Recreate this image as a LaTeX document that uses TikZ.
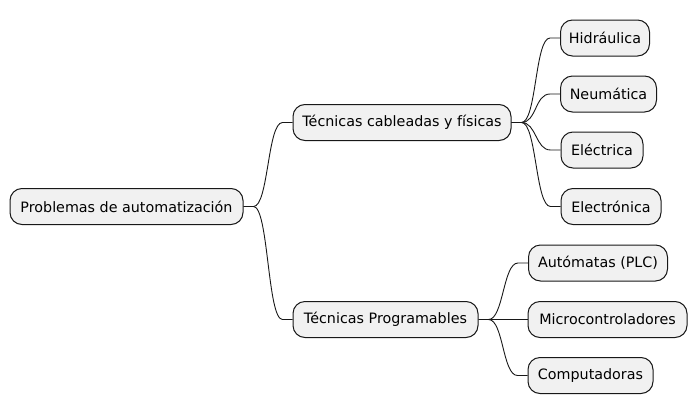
\documentclass[tikz,border=0pt]{standalone}
\usepackage{fontspec}
\setmainfont{DejaVu Sans}
\usetikzlibrary{calc}
\definecolor{boxfill}{HTML}{F1F1F1}
\definecolor{boxline}{HTML}{181818}
\tikzset{
  mmbox/.style={draw=boxline, fill=boxfill, line width=1pt, rounded corners=12pt,
    minimum height=36pt, inner sep=0pt, font=\fontsize{14.3pt}{16pt}\selectfont, text=black},
  conn/.style={draw=boxline, line width=0.9pt}
}
\newcommand{\mmconn}[2]{\draw[conn] (#1.east) -- ++(10pt,0) .. controls +(15pt,0) and +(-15pt,0) .. ($(#2.west)+(-10pt,0)$) -- (#2.west);}
\begin{document}
\begin{tikzpicture}[x=1pt,y=-1pt]
\useasboundingbox (0,0) rectangle (698,415);
\node[mmbox, minimum width=233pt] (root) at (126.5,206.5) {Problemas de automatización};
\node[mmbox, minimum width=218pt] (cab) at (402,122.5) {Técnicas cableadas y físicas};
\node[mmbox, minimum width=185pt] (prog) at (385.5,319.5) {Técnicas Programables};
\node[mmbox, minimum width=89pt] (hid) at (605,38) {Hidráulica};
\node[mmbox, minimum width=96pt] (neu) at (608.5,94) {Neumática};
\node[mmbox, minimum width=82pt] (ele) at (602,150) {Eléctrica};
\node[mmbox, minimum width=100pt] (elo) at (611,206.5) {Electrónica};
\node[mmbox, minimum width=139pt] (aut) at (598,263) {Autómatas (PLC)};
\node[mmbox, minimum width=159pt] (mic) at (607.5,319.5) {Microcontroladores};
\node[mmbox, minimum width=125pt] (com) at (590.5,375.5) {Computadoras};
\mmconn{root}{cab}
\mmconn{root}{prog}
\mmconn{cab}{hid}
\mmconn{cab}{neu}
\mmconn{cab}{ele}
\mmconn{cab}{elo}
\mmconn{prog}{aut}
\mmconn{prog}{mic}
\mmconn{prog}{com}
\end{tikzpicture}
\end{document}
